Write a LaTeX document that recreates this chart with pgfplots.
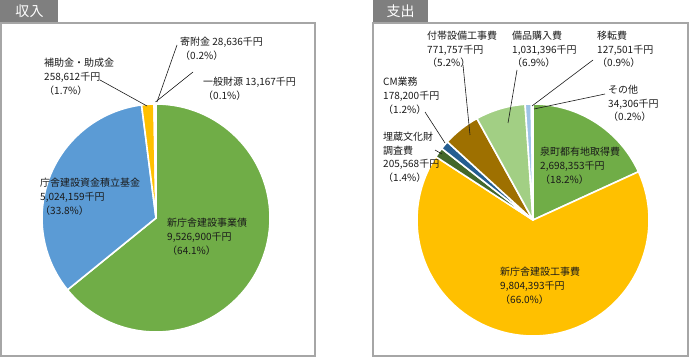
\documentclass[border=0pt]{standalone}
\usepackage{pgfplots}
\usepackage{pgfplotstable}
\pgfplotsset{compat=1.18}
\usepackage{fontspec}
\setmainfont{Noto Sans CJK JP}

\definecolor{cGreen}{HTML}{70AD47}
\definecolor{cBlue}{HTML}{5B9BD5}
\definecolor{cYellow}{HTML}{FFC000}
\definecolor{cGray}{HTML}{A5A5A5}
\definecolor{cDBlue}{HTML}{4472C4}
\definecolor{cDGreen}{HTML}{43682B}
\definecolor{cNavy}{HTML}{255E91}
\definecolor{cBrown}{HTML}{9E7000}
\definecolor{cLGreen}{HTML}{A2CF84}
\definecolor{cLBlue}{HTML}{9DC3E6}
\definecolor{cPale}{HTML}{D9E8F5}
\definecolor{tabgray}{HTML}{7F7F7F}
\definecolor{boxgray}{HTML}{A6A6A6}
\definecolor{txt}{HTML}{1A1A1A}

\pgfplotstableread{
value col
9526900 cGreen
5024159 cBlue
258612 cYellow
28636 cGray
13167 cDBlue
}\incomeTable

\pgfplotstableread{
value col
2698353 cGreen
9804393 cYellow
205568 cDGreen
178200 cNavy
771757 cBrown
1031396 cLGreen
127501 cLBlue
34306 cPale
}\expenseTable

\newcommand{\drawpie}[4]{% #1 table, #2 cx, #3 cy, #4 radius
  \pgfplotstablegetrowsof{#1}\edef\pienrows{\pgfplotsretval}%
  \gdef\pietotal{0}%
  \pgfplotsforeachungrouped \pieidx in {1,...,\pienrows}{%
    \pgfmathtruncatemacro\pierow{\pieidx-1}%
    \pgfplotstablegetelem{\pierow}{value}\of{#1}%
    \xdef\pietotal{\fpeval{\pietotal+\pgfplotsretval}}%
  }%
  \gdef\piecum{0}%
  \pgfplotsforeachungrouped \pieidx in {1,...,\pienrows}{%
    \pgfmathtruncatemacro\pierow{\pieidx-1}%
    \pgfplotstablegetelem{\pierow}{value}\of{#1}\let\pieval\pgfplotsretval
    \pgfplotstablegetelem{\pierow}{col}\of{#1}\let\piecol\pgfplotsretval
    \edef\piesa{\fpeval{90-360*\piecum/\pietotal}}%
    \xdef\piecum{\fpeval{\piecum+\pieval}}%
    \edef\pieea{\fpeval{90-360*\piecum/\pietotal}}%
    \fill[fill=\piecol, draw=white, line width=1.6pt, line join=round]
      (axis cs:#2,#3) -- ++(\piesa:#4pt) arc[start angle=\piesa, end angle=\pieea, radius=#4pt] -- cycle;
  }%
}

\newcommand{\lab}{\fontsize{10}{13.7}\selectfont}

\begin{document}
\begin{tikzpicture}
\begin{axis}[
  x=1pt, y=1pt,
  xmin=0, xmax=690, ymin=0, ymax=358,
  y dir=reverse,
  hide axis, clip=false,
  at={(0,0)}, anchor=south west,
]
\path (axis cs:0,0) rectangle (axis cs:690,358);
% panels
\draw[boxgray, line width=1.2pt] (axis cs:1,23) rectangle (axis cs:315,356);
\draw[boxgray, line width=1.2pt] (axis cs:373,23) rectangle (axis cs:688,356);
\fill[tabgray] (axis cs:0,0) rectangle (axis cs:58,22.5);
\fill[tabgray] (axis cs:373,0) rectangle (axis cs:428,22.5);
\node[white, font=\fontsize{14}{16}\selectfont] at (axis cs:29.5,11.5) {収入};
\node[white, font=\fontsize{14}{16}\selectfont] at (axis cs:400.5,11.5) {支出};

\pgfplotsextra{\drawpie{\incomeTable}{156}{218}{114}}
\pgfplotsextra{\drawpie{\expenseTable}{533}{220}{116}}

% leader lines
\draw[txt, line width=0.6pt] (axis cs:100,80) -- (axis cs:147,106);
\draw[txt, line width=0.6pt] (axis cs:177,45) -- (axis cs:157,102);
\draw[txt, line width=0.6pt] (axis cs:193,72) -- (axis cs:155.5,102);
\draw[txt, line width=0.6pt] (axis cs:463,65) -- (axis cs:470,135);
\draw[txt, line width=0.6pt] (axis cs:517,70) -- (axis cs:508,123);
\draw[txt, line width=0.6pt] (axis cs:593,60) -- (axis cs:532,106);
\draw[txt, line width=0.6pt] (axis cs:605,94) -- (axis cs:534,109);
\draw[txt, line width=0.6pt] (axis cs:425,112) -- (axis cs:445,143);
\draw[txt, line width=0.6pt] (axis cs:435,150) -- (axis cs:442,154);

% labels
\begin{scope}[every node/.style={txt, anchor=north west, inner sep=0pt, align=left, font=\lab}]
\node at (axis cs:180,37) {寄附金 28,636千円\\（0.2\%）};
\node at (axis cs:203,77) {一般財源 13,167千円\\（0.1\%）};
\node at (axis cs:44,58) {補助金・助成金\\258,612千円\\（1.7\%）};
\node at (axis cs:40,178) {庁舎建設資金積立基金\\5,024,159千円\\（33.8\%）};
\node at (axis cs:167,218) {新庁舎建設事業債\\9,526,900千円\\（64.1\%）};
\node at (axis cs:427,31) {付帯設備工事費\\771,757千円\\（5.2\%）};
\node at (axis cs:512,31) {備品購入費\\1,031,396千円\\（6.9\%）};
\node at (axis cs:597,31) {移転費\\127,501千円\\（0.9\%）};
\node at (axis cs:608,85) {その他\\34,306千円\\（0.2\%）};
\node at (axis cs:383,77) {CM業務\\178,200千円\\（1.2\%）};
\node at (axis cs:383,132) {埋蔵文化財\\調査費\\205,568千円\\（1.4\%）};
\node at (axis cs:540,147) {泉町都有地取得費\\2,698,353千円\\（18.2\%）};
\node at (axis cs:500,267) {新庁舎建設工事費\\9,804,393千円\\（66.0\%）};
\end{scope}
\end{axis}
\end{tikzpicture}
\end{document}
